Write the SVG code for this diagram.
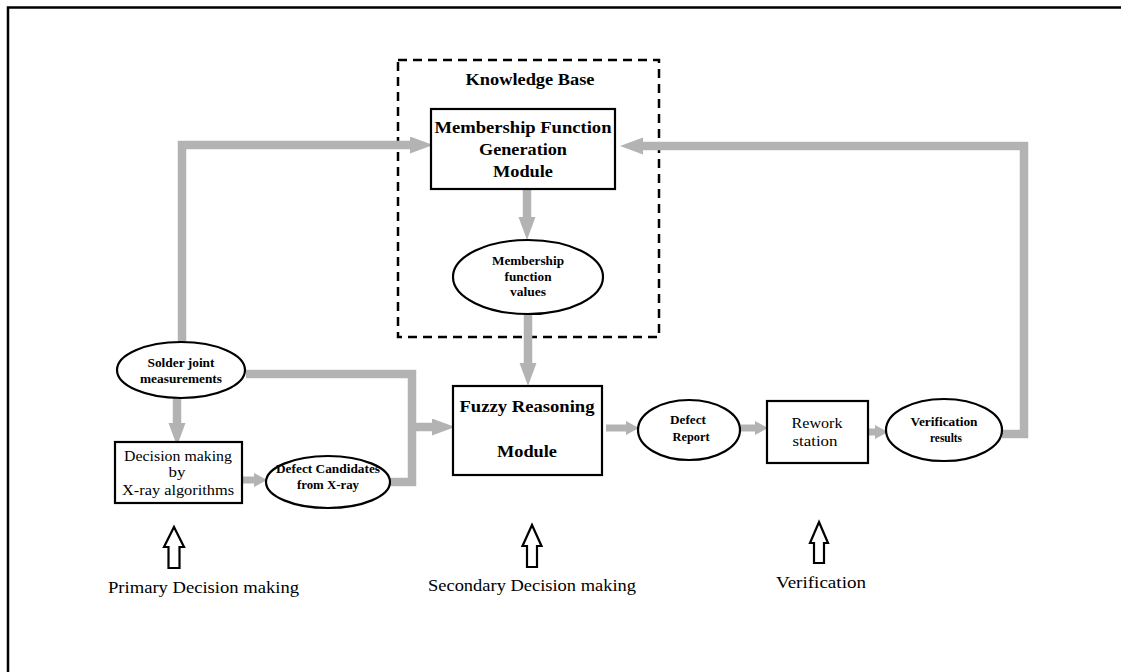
<svg xmlns="http://www.w3.org/2000/svg" width="1121" height="672" viewBox="0 0 1121 672">
<style>
text{font-family:"Liberation Serif","Times New Roman",serif;fill:#000;text-anchor:middle}
.b{font-weight:bold}
.node{fill:#fff;stroke:#000;stroke-width:2.2}
.g{fill:none;stroke:#b3b3b3;stroke-width:8.5}
.gs{fill:none;stroke:#b3b3b3;stroke-width:7}
.hollow{fill:#fff;stroke:#000;stroke-width:2.2;stroke-linejoin:miter}
</style>
<defs>
<marker id="big" markerUnits="userSpaceOnUse" markerWidth="24" markerHeight="18" refX="0" refY="8.5" orient="auto">
<path d="M0,0 L23,8.5 L0,17 z" fill="#b3b3b3"/>
</marker>
<marker id="small" markerUnits="userSpaceOnUse" markerWidth="14" markerHeight="15" refX="0" refY="7" orient="auto">
<path d="M0,0 L13,7 L0,14 z" fill="#b3b3b3"/>
</marker>
</defs>
<rect width="1121" height="672" fill="#fff"/>
<rect x="8" y="7.5" width="1200" height="720" fill="none" stroke="#000" stroke-width="2.5"/>

<g id="knowledge-base">
<rect x="398" y="60" width="261" height="277" fill="none" stroke="#000" stroke-width="2.5" stroke-dasharray="9,6"/>
<text class="b" x="530" y="85" font-size="16" textLength="129" lengthAdjust="spacingAndGlyphs">Knowledge Base</text>
</g>

<g id="connectors">
<path class="g" d="M527,190 V217" marker-end="url(#big)"/>
<path class="g" d="M528,314 V363" marker-end="url(#big)"/>
<path class="g" d="M182,342 V145 H410" marker-end="url(#big)"/>
<path class="g" d="M1002,434 H1024 V146 H643" marker-end="url(#big)"/>
<path class="g" d="M246,374 H412 V482 H390"/>
<path class="g" d="M412,427 H432" marker-end="url(#big)"/>
<path class="g" d="M177,398 V423" marker-end="url(#big)"/>
<path class="gs" d="M243,480 H254" marker-end="url(#small)"/>
<path class="gs" d="M606,428 H626" marker-end="url(#small)"/>
<path class="gs" d="M741,428 H755" marker-end="url(#small)"/>
<path class="gs" d="M868,432 H875" marker-end="url(#small)"/>
</g>

<g id="mfg-module">
<rect class="node" x="431" y="109" width="184" height="80"/>
<text class="b" x="523" y="133" font-size="17.5" textLength="177" lengthAdjust="spacingAndGlyphs">Membership Function</text>
<text class="b" x="523" y="155" font-size="17.5" textLength="88" lengthAdjust="spacingAndGlyphs">Generation</text>
<text class="b" x="523" y="177" font-size="17.5" textLength="60" lengthAdjust="spacingAndGlyphs">Module</text>
</g>

<g id="mf-values">
<ellipse class="node" cx="528" cy="277" rx="75" ry="37"/>
<text class="b" x="528" y="265" font-size="11.5" textLength="72" lengthAdjust="spacingAndGlyphs">Membership</text>
<text class="b" x="528" y="281" font-size="11.5" textLength="47" lengthAdjust="spacingAndGlyphs">function</text>
<text class="b" x="528" y="296" font-size="11.5" textLength="36" lengthAdjust="spacingAndGlyphs">values</text>
</g>

<g id="solder">
<ellipse class="node" cx="181" cy="370" rx="64" ry="28"/>
<text class="b" x="181" y="367" font-size="12.5" textLength="67" lengthAdjust="spacingAndGlyphs">Solder joint</text>
<text class="b" x="181" y="383" font-size="12.5" textLength="82" lengthAdjust="spacingAndGlyphs">measurements</text>
</g>

<g id="decision">
<rect class="node" x="115" y="442" width="127" height="61"/>
<text x="178" y="461" font-size="15" textLength="108" lengthAdjust="spacingAndGlyphs">Decision making</text>
<text x="177" y="477" font-size="15" textLength="17" lengthAdjust="spacingAndGlyphs">by</text>
<text x="178" y="495" font-size="15" textLength="112" lengthAdjust="spacingAndGlyphs">X-ray algorithms</text>
</g>

<g id="defect-candidates">
<ellipse class="node" cx="328" cy="482" rx="62" ry="26"/>
<text class="b" x="328" y="473" font-size="12" textLength="104" lengthAdjust="spacingAndGlyphs">Defect Candidates</text>
<text class="b" x="328" y="489" font-size="12" textLength="62" lengthAdjust="spacingAndGlyphs">from X-ray</text>
</g>

<g id="fuzzy">
<rect class="node" x="453" y="386" width="149" height="89"/>
<text class="b" x="527" y="412" font-size="17.5" textLength="135" lengthAdjust="spacingAndGlyphs">Fuzzy Reasoning</text>
<text class="b" x="527" y="457" font-size="17.5" textLength="60" lengthAdjust="spacingAndGlyphs">Module</text>
</g>

<g id="defect-report">
<ellipse class="node" cx="689" cy="430" rx="51" ry="30"/>
<text class="b" x="688" y="424" font-size="12" textLength="36" lengthAdjust="spacingAndGlyphs">Defect</text>
<text class="b" x="691" y="441" font-size="12" textLength="37" lengthAdjust="spacingAndGlyphs">Report</text>
</g>

<g id="rework">
<rect class="node" x="767" y="401" width="101" height="62"/>
<text x="817" y="428" font-size="15" textLength="51" lengthAdjust="spacingAndGlyphs">Rework</text>
<text x="815" y="446" font-size="15" textLength="45" lengthAdjust="spacingAndGlyphs">station</text>
</g>

<g id="verification-results">
<ellipse class="node" cx="944" cy="430" rx="58" ry="31"/>
<text class="b" x="944" y="426" font-size="12" textLength="67" lengthAdjust="spacingAndGlyphs">Verification</text>
<text class="b" x="946" y="442" font-size="12" textLength="32" lengthAdjust="spacingAndGlyphs">results</text>
</g>

<g id="primary-label">
<path class="hollow" d="M174,527 L184,547 L179.5,547 L179.5,568 L168.5,568 L168.5,547 L164,547 z"/>
<text x="203.5" y="593" font-size="17" textLength="191" lengthAdjust="spacingAndGlyphs">Primary Decision making</text>
</g>

<g id="secondary-label">
<path class="hollow" d="M532,525 L541.5,546 L537,546 L537,567 L527,567 L527,546 L522.5,546 z"/>
<text x="532" y="591" font-size="17" textLength="208" lengthAdjust="spacingAndGlyphs">Secondary Decision making</text>
</g>

<g id="verification-label">
<path class="hollow" d="M819,522 L828,543 L824,543 L824,563 L814,563 L814,543 L810,543 z"/>
<text x="821" y="588" font-size="17" textLength="90" lengthAdjust="spacingAndGlyphs">Verification</text>
</g>
</svg>
